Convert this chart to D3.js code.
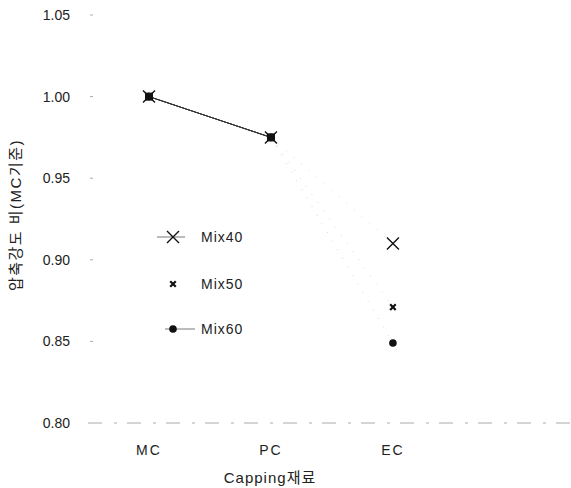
<!DOCTYPE html>
<html>
<head>
<meta charset="utf-8">
<script src="https://cdn.jsdelivr.net/npm/d3@7"></script>
<style>
  body { margin: 0; background: #fff; }
  text { font-family: Arial, "Liberation Sans", "Noto Sans CJK KR", sans-serif; fill: #222; }
</style>
</head>
<body>
<div id="chart"></div>
<script>
// data
var categories = ['MC', 'PC', 'EC'];
var mix40 = [1.000, 0.975, 0.910];
var mix50 = [1.000, 0.975, 0.871];
var mix60 = [1.000, 0.975, 0.849];
var yTicks = [0.80, 0.85, 0.90, 0.95, 1.00, 1.05];
var seriesNames = ['Mix40', 'Mix50', 'Mix60'];

var width = 571, height = 488;

var svg = d3.select('#chart').append('svg')
    .attr('width', width)
    .attr('height', height);

var x = d3.scaleLinear().domain([0.5, 4.46]).range([88, 571]);
var y = d3.scaleLinear().domain([0.80, 1.05]).range([423, 15]);

// y axis: only labels and tiny ticks, no spine
var yAxis = svg.append('g');
yTicks.forEach(function(t) {
    yAxis.append('text')
        .attr('x', 70).attr('y', y(t) + 5)
        .attr('text-anchor', 'end')
        .style('font-size', '14px')
        .text(d3.format('.2f')(t));
    if (t > 0.8) {
        yAxis.append('line')
            .attr('x1', 90).attr('x2', 93)
            .attr('y1', y(t)).attr('y2', y(t))
            .attr('stroke', '#aaa').attr('stroke-width', 1);
    }
});

// faint bottom baseline
svg.append('line')
    .attr('x1', 88).attr('x2', 571)
    .attr('y1', y(0.8)).attr('y2', y(0.8))
    .attr('stroke', '#aaa').attr('stroke-width', 1)
    .attr('stroke-dasharray', '14,12,3,10');

// x labels
categories.forEach(function(c, i) {
    svg.append('text')
        .attr('x', x(i + 1)).attr('y', 455)
        .attr('text-anchor', 'middle')
        .style('font-size', '14px')
        .style('letter-spacing', '2px')
        .text(c);
});

svg.append('text')
    .attr('x', 270).attr('y', 483)
    .attr('text-anchor', 'middle')
    .style('font-size', '15px')
    .style('letter-spacing', '1px')
    .text('Capping재료');

svg.append('text')
    .attr('transform', 'translate(21,215) rotate(-90)')
    .attr('text-anchor', 'middle')
    .style('font-size', '15px')
    .style('letter-spacing', '1.5px')
    .text('압축강도 비(MC기준)');

var allSeries = [mix40, mix50, mix60];

// lines: MC->PC solid, PC->EC faint
allSeries.forEach(function(s) {
    svg.append('line')
        .attr('x1', x(1)).attr('y1', y(s[0]))
        .attr('x2', x(2)).attr('y2', y(s[1]))
        .attr('stroke', '#333').attr('stroke-width', 1);
    svg.append('line')
        .attr('x1', x(2)).attr('y1', y(s[1]))
        .attr('x2', x(3)).attr('y2', y(s[2]))
        .attr('stroke', '#ccc').attr('stroke-width', 0.8)
        .attr('stroke-dasharray', '1,9');
});

function drawMarker(g, kind, cx, cy) {
    if (kind === 0) {
        g.append('path')
            .attr('d', 'M' + (cx - 6) + ',' + (cy - 6) + 'L' + (cx + 6) + ',' + (cy + 6) +
                       'M' + (cx - 6) + ',' + (cy + 6) + 'L' + (cx + 6) + ',' + (cy - 6))
            .attr('stroke', '#111').attr('stroke-width', 1.4).attr('fill', 'none');
    } else if (kind === 1) {
        g.append('path')
            .attr('d', d3.symbol().type(d3.symbolTimes).size(22)())
            .attr('transform', 'translate(' + cx + ',' + cy + ')')
            .attr('stroke', '#111').attr('stroke-width', 2.2).attr('fill', 'none');
    } else {
        g.append('circle')
            .attr('cx', cx).attr('cy', cy).attr('r', 3.8)
            .attr('fill', '#111');
    }
}

allSeries.forEach(function(s, k) {
    s.forEach(function(v, i) {
        drawMarker(svg, k, x(i + 1), y(v));
    });
});

// heavier overlapping blob at MC and PC
[0, 1].forEach(function(i) {
    svg.append('rect')
        .attr('x', x(i + 1) - 4).attr('y', y(mix40[i]) - 4)
        .attr('width', 8).attr('height', 8)
        .attr('fill', '#111');
});

// legend
var legY = [237, 284, 329];
seriesNames.forEach(function(n, k) {
    var ly = legY[k];
    if (k === 0) {
        svg.append('line').attr('x1', 157).attr('x2', 185).attr('y1', ly).attr('y2', ly)
            .attr('stroke', '#555').attr('stroke-width', 0.8);
    }
    if (k === 2) {
        svg.append('line').attr('x1', 165).attr('x2', 195).attr('y1', ly).attr('y2', ly)
            .attr('stroke', '#555').attr('stroke-width', 0.8);
    }
    drawMarker(svg, k, 173, ly);
    svg.append('text')
        .attr('x', 201).attr('y', ly + 5)
        .style('font-size', '14px')
        .style('letter-spacing', '1px')
        .text(n);
});
</script>
</body>
</html>
